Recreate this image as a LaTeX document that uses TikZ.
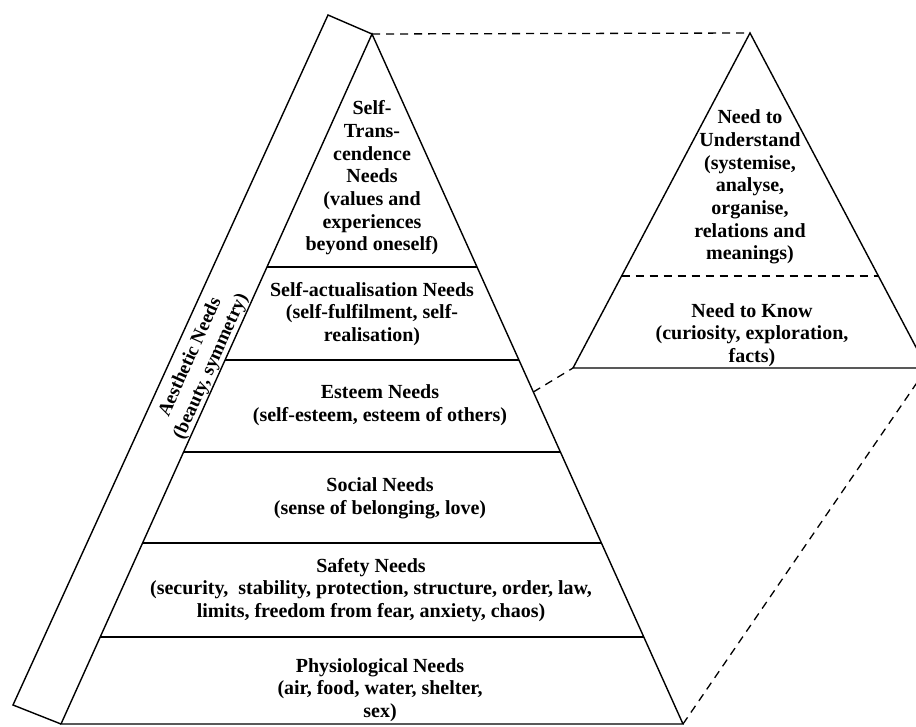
\documentclass[tikz,border=0pt]{standalone}
\usepackage{fontspec}
\setmainfont{Liberation Serif}
\usetikzlibrary{calc}

\begin{document}
\begin{tikzpicture}[
        x=1pt, y=-1pt,
        edge/.style={line width=1.4pt, line join=miter},
        level/.style={line width=1.4pt},
        dashline/.style={line width=1.3pt, dash pattern=on 8pt off 6pt},
        txt/.style={align=center, inner sep=0pt, font=\fontsize{20}{22.7}\selectfont\bfseries}
    ]
        \useasboundingbox (0,0) rectangle (916,726);
        \clip (0,0) rectangle (916,726);

        % main pyramid
        \coordinate (apex) at (372,34);
        \coordinate (bl)   at (61,724);
        \coordinate (br)   at (683,724);
        \draw[edge] (bl) -- (apex) -- (br) -- cycle;

        % level boundaries
        \foreach \yy in {267,360,452,543,637}
            \draw[level] ($(apex)!{(\yy-34)/690}!(bl)$) -- ($(apex)!{(\yy-34)/690}!(br)$);

        % aesthetic band along the left side
        \coordinate (btop) at (328,15);
        \coordinate (bbot) at (13,705);
        \draw[edge] (apex) -- (btop) -- (bbot) -- (bl);

        % cognitive pyramid
        \coordinate (kapex) at (750,33);
        \coordinate (kbl)   at (573,368);
        \coordinate (kbr)   at (927,368);
        \draw[edge] (kbl) -- (kapex) -- (kbr) -- cycle;
        \draw[dashline] ($(kapex)!{243/335}!(kbl)$) -- ($(kapex)!{243/335}!(kbr)$);

        % dashed links between the pyramids
        \coordinate (tap) at ($(apex)!{358/690}!(br)$);
        \draw[dashline] (apex) -- (kapex);
        \draw[dashline] (tap) -- (kbl);
        \draw[dashline] (br) -- (kbr);

        \node[txt] (trans)  at (372,178) {Self-\\Trans-\\cendence\\Needs\\(values and\\experiences\\beyond oneself)};
        \node[txt] (actual) at (372,314) {Self-actualisation Needs\\(self-fulfilment, self-\\realisation)};
        \node[txt] (esteem) at (380,405) {Esteem Needs\\(self-esteem, esteem of others)};
        \node[txt] (social) at (380,498) {Social Needs\\(sense of belonging, love)};
        \node[txt] (safety) at (371,590) {Safety Needs\\(security,\ \ stability, protection, structure, order, law,\\limits, freedom from fear, anxiety, chaos)};
        \node[txt] (physio) at (380,690) {Physiological Needs\\(air, food, water, shelter,\\sex)};

        \node[txt] (understand) at (750,187) {Need to\\Understand\\(systemise,\\analyse,\\organise,\\relations and\\meanings)};
        \node[txt] (know)       at (752,335) {Need to Know\\(curiosity, exploration,\\facts)};

        \node[txt, font=\fontsize{19}{22.7}\selectfont\bfseries, rotate=65.8] (aesth) at (201,362) {Aesthetic Needs\\(beauty, symmetry)};
    \end{tikzpicture}
\end{document}
